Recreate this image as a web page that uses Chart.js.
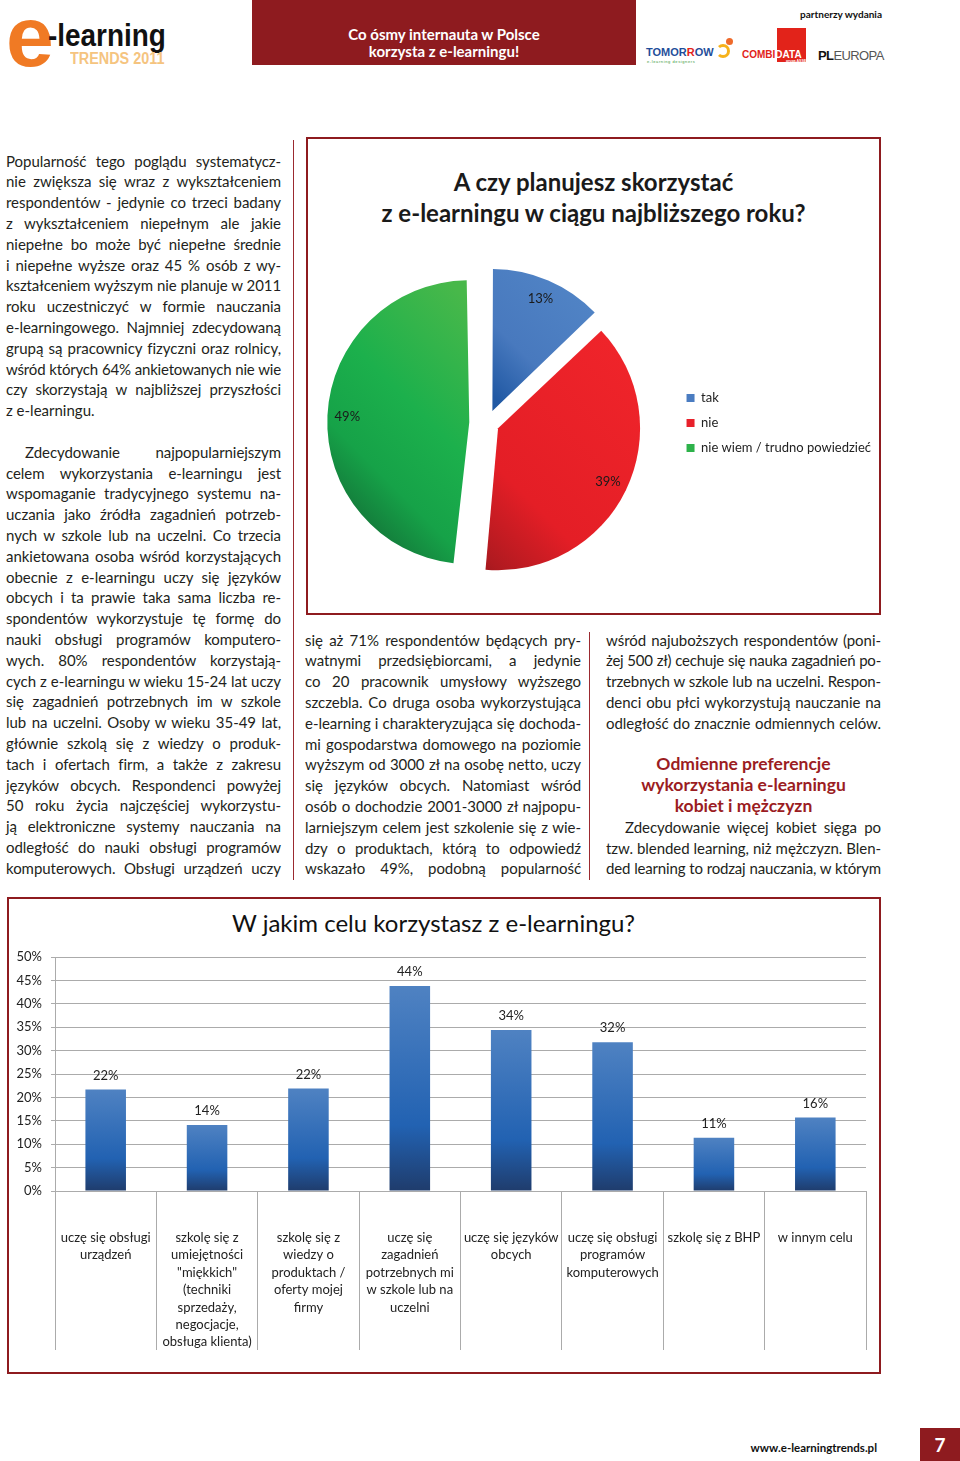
<!DOCTYPE html>
<html lang="pl">
<head>
<meta charset="utf-8">
<title>e-learning trends 2011</title>
<script src="https://cdn.jsdelivr.net/npm/chart.js@4.4.1/dist/chart.umd.min.js"></script>
<style>
  html, body { margin: 0; padding: 0; background: #fff; }
  body { width: 960px; height: 1461px; position: relative; overflow: hidden; font-family: Lato, sans-serif; color: #231f20; }
  .abs { position: absolute; }
  .col { position: absolute; font-size: 15px; line-height: 20.8px; }
  .ln { height: 20.8px; text-align: justify; text-align-last: justify; white-space: normal; overflow: visible; }
  .ln.last { text-align-last: left; }
  .ln.ind { text-indent: 19px; }
  .hd { height: 20.8px; text-align: center; font-weight: bold; font-size: 17.5px; color: #9b1c22; white-space: nowrap; }
  .box { position: absolute; border: 2px solid #8e1b1f; box-sizing: border-box; }
  .vline { position: absolute; width: 1px; background: #9b2a30; }
</style>
</head>
<body>

<!-- header -->
<div class="abs" style="left:6px;top:-7px;font:bold 86px/86px 'Liberation Sans',Arial,sans-serif;color:#f07a24;">e</div>
<div class="abs" style="left:48px;top:19.7px;font:bold 31px/31px 'Liberation Sans',Arial,sans-serif;color:#111;transform:scaleX(0.9);transform-origin:left top;white-space:nowrap;">-learning</div>
<div class="abs" style="left:70px;top:50.5px;font:bold 16px/16px 'Liberation Sans',Arial,sans-serif;color:#f5c47f;transform:scaleX(0.9);transform-origin:left top;white-space:nowrap;">TRENDS 2011</div>

<div class="abs" style="left:252px;top:0;width:384px;height:65px;background:#8e1b1f;"></div>
<div class="abs" style="left:252px;top:25.5px;width:384px;text-align:center;font:bold 15px/17px Lato,sans-serif;color:#fff;">Co ósmy internauta w Polsce<br>korzysta z e-learningu!</div>

<div class="abs" style="left:780px;top:7px;width:102px;text-align:right;font:bold 10px/14px Lato,sans-serif;color:#111;">partnerzy wydania</div>
<div class="abs" style="left:646px;top:46px;font:900 11px/13px 'Liberation Sans',Arial,sans-serif;color:#1f4e9a;white-space:nowrap;">TOMOR<span style="color:#e2231a">R</span>OW</div>
<div class="abs" style="left:647px;top:59px;font:4px/5px 'Liberation Sans',Arial,sans-serif;color:#3a9a3a;white-space:nowrap;letter-spacing:0.6px;">e-learning designers</div>
<div class="abs" style="left:716px;top:44px;width:14px;height:14px;border-radius:50%;border:3px solid #f6b21b;border-left-color:transparent;box-sizing:border-box;"></div>
<div class="abs" style="left:726px;top:38px;width:7px;height:7px;border-radius:50%;background:#ef6a2a;"></div>
<div class="abs" style="left:777px;top:28px;width:29px;height:34px;background:#e2231a;"></div>
<div class="abs" style="left:742px;top:49px;font:900 10px/12px 'Liberation Sans',Arial,sans-serif;color:#e2231a;white-space:nowrap;">COMBI<span style="color:#fff">DATA</span></div>
<div class="abs" style="left:786px;top:59px;font:bold 3.5px/4px 'Liberation Sans',Arial,sans-serif;color:#fff;white-space:nowrap;">grupa ASSECO</div>
<div class="abs" style="left:818px;top:48px;font:13px/15px 'Liberation Sans',Arial,sans-serif;color:#555;white-space:nowrap;letter-spacing:-0.6px;"><b style="color:#111">PL</b>EUROPA</div>

<!-- left column -->
<div class="vline" style="left:293px;top:140px;height:740px;"></div>
<div class="col" id="colLeft" style="left:6px;top:150.6px;width:275px;">
  <div class="ln">Popularność tego poglądu systematycz-</div>
  <div class="ln">nie zwiększa się wraz z wykształceniem</div>
  <div class="ln">respondentów - jedynie co trzeci badany</div>
  <div class="ln">z wykształceniem niepełnym ale jakie</div>
  <div class="ln">niepełne bo może być niepełne średnie</div>
  <div class="ln">i niepełne wyższe oraz 45 % osób z wy-</div>
  <div class="ln">kształceniem wyższym nie planuje w 2011</div>
  <div class="ln">roku uczestniczyć w formie nauczania</div>
  <div class="ln">e-learningowego. Najmniej zdecydowaną</div>
  <div class="ln">grupą są pracownicy fizyczni oraz rolnicy,</div>
  <div class="ln">wśród których 64% ankietowanych nie wie</div>
  <div class="ln">czy skorzystają w najbliższej przyszłości</div>
  <div class="ln last">z e-learningu.</div>
  <div class="ln last"></div>
  <div class="ln ind">Zdecydowanie najpopularniejszym</div>
  <div class="ln">celem wykorzystania e-learningu jest</div>
  <div class="ln">wspomaganie tradycyjnego systemu na-</div>
  <div class="ln">uczania jako źródła zagadnień potrzeb-</div>
  <div class="ln">nych w szkole lub na uczelni. Co trzecia</div>
  <div class="ln">ankietowana osoba wśród korzystających</div>
  <div class="ln">obecnie z e-learningu uczy się języków</div>
  <div class="ln">obcych i ta prawie taka sama liczba re-</div>
  <div class="ln">spondentów wykorzystuje tę formę do</div>
  <div class="ln">nauki obsługi programów komputero-</div>
  <div class="ln">wych. 80% respondentów korzystają-</div>
  <div class="ln">cych z e-learningu w wieku 15-24 lat uczy</div>
  <div class="ln">się zagadnień potrzebnych im w szkole</div>
  <div class="ln">lub na uczelni. Osoby w wieku 35-49 lat,</div>
  <div class="ln">głównie szkolą się z wiedzy o produk-</div>
  <div class="ln">tach i ofertach firm, a także z zakresu</div>
  <div class="ln">języków obcych. Respondenci powyżej</div>
  <div class="ln">50 roku życia najczęściej wykorzystu-</div>
  <div class="ln">ją elektroniczne systemy nauczania na</div>
  <div class="ln">odległość do nauki obsługi programów</div>
  <div class="ln">komputerowych. Obsługi urządzeń uczy</div>
</div>

<!-- pie box -->
<div class="box" style="left:306px;top:137px;width:575px;height:478px;"></div>
<div class="abs" style="left:306px;top:165.5px;width:575px;text-align:center;font:bold 24px/31px Lato,sans-serif;color:#1a1a1a;">A czy planujesz skorzystać<br>z e-learningu w ciągu najbliższego roku?</div>
<canvas id="pieChart" class="abs" style="left:300px;top:240px;" width="581" height="366"></canvas>

<!-- middle column -->
<div class="vline" style="left:589px;top:632px;height:248px;"></div>
<div class="col" id="colMid" style="left:305px;top:629.6px;width:276px;">
  <div class="ln">się aż 71% respondentów będących pry-</div>
  <div class="ln">watnymi przedsiębiorcami, a jedynie</div>
  <div class="ln">co 20 pracownik umysłowy wyższego</div>
  <div class="ln">szczebla. Co druga osoba wykorzystująca</div>
  <div class="ln">e-learning i charakteryzująca się dochoda-</div>
  <div class="ln">mi gospodarstwa domowego na poziomie</div>
  <div class="ln">wyższym od 3000 zł na osobę netto, uczy</div>
  <div class="ln">się języków obcych. Natomiast wśród</div>
  <div class="ln">osób o dochodzie 2001-3000 zł najpopu-</div>
  <div class="ln">larniejszym celem jest szkolenie się z wie-</div>
  <div class="ln">dzy o produktach, którą to odpowiedź</div>
  <div class="ln">wskazało 49%, podobną popularność</div>
</div>

<!-- right column -->
<div class="col" id="colRight" style="left:606px;top:629.6px;width:275px;">
  <div class="ln">wśród najuboższych respondentów (poni-</div>
  <div class="ln">żej 500 zł) cechuje się nauka zagadnień po-</div>
  <div class="ln">trzebnych w szkole lub na uczelni. Respon-</div>
  <div class="ln">denci obu płci wykorzystują nauczanie na</div>
  <div class="ln">odległość do znacznie odmiennych celów.</div>
  <div class="ln last"></div>
  <div class="hd">Odmienne preferencje</div>
  <div class="hd">wykorzystania e-learningu</div>
  <div class="hd">kobiet i mężczyzn</div>
  <div class="ln ind">Zdecydowanie więcej kobiet sięga po</div>
  <div class="ln">tzw. blended learning, niż mężczyzn. Blen-</div>
  <div class="ln">ded learning to rodzaj nauczania, w którym</div>
</div>

<!-- bar box -->
<div class="box" style="left:7px;top:897px;width:874px;height:477px;"></div>
<div class="abs" style="left:0;top:907px;width:867px;text-align:center;font:24px/31px Lato,sans-serif;color:#111;">W jakim celu korzystasz z e-learningu?</div>
<canvas id="barChart" class="abs" style="left:9px;top:940px;" width="868" height="416"></canvas>

<!-- footer -->
<div class="abs" style="left:700px;top:1440px;width:177px;text-align:right;font:bold 11.5px/16px Lato,sans-serif;color:#111;">www.e-learningtrends.pl</div>
<div class="abs" style="left:920px;top:1428px;width:40px;height:33px;background:#8e1b1f;color:#fff;font:bold 19px/33px Lato,sans-serif;text-align:center;">7</div>

<script>
// --- dane: wykres kołowy ---
const answerLabels = ['tak', 'nie', 'nie wiem / trudno powiedzieć'];
const answerValues = [13, 39, 49];

// --- dane: wykres słupkowy ---
const purposeLabels = [
  ['uczę się obsługi', 'urządzeń'],
  ['szkolę się z', 'umiejętności', '"miękkich"', '(techniki', 'sprzedaży,', 'negocjacje,', 'obsługa klienta)'],
  ['szkolę się z', 'wiedzy o', 'produktach /', 'oferty mojej', 'firmy'],
  ['uczę się', 'zagadnień', 'potrzebnych mi', 'w szkole lub na', 'uczelni'],
  ['uczę się języków', 'obcych'],
  ['uczę się obsługi', 'programów', 'komputerowych'],
  ['szkolę się z BHP'],
  ['w innym celu']
];
const purposeValues = [21.7, 14.1, 21.9, 43.8, 34.4, 31.8, 11.4, 15.7];
const yTicksMax = 50;
const yTicksStep = 5;

// kolory
const sliceSolid = ['#4a7cc1', '#e8202a', '#2db24a'];
const sliceStops = [
  [[0, '#5083c5'], [0.28, '#4879be'], [0.46, '#2159a4'], [1, '#1d4f96']],
  [[0, '#ef242a'], [0.6, '#e41e26'], [0.85, '#b01a20'], [1, '#7e1216']],
  [[0.2, '#48b84a'], [0.6, '#1cb04c'], [0.85, '#16a248'], [1, '#147f3c']]
];
const GRID = '#ababab';
const TEXT = '#222';
const PIE_R = 142;

Chart.defaults.font.family = 'Lato, sans-serif';
Chart.defaults.color = TEXT;

// justowanie wierszy kolumn (zwężenie zbyt długich)
function fitLines() {
  document.querySelectorAll('.col .ln').forEach(ln => {
    const txt = ln.textContent;
    if (!txt) return;
    const probe = document.createElement('span');
    probe.style.whiteSpace = 'nowrap';
    probe.textContent = txt;
    ln.textContent = '';
    ln.appendChild(probe);
    const nat = probe.getBoundingClientRect().width;
    const avail = ln.clientWidth - (ln.classList.contains('ind') ? 19 : 0);
    ln.textContent = txt;
    if (nat > avail - 1) {
      ln.style.letterSpacing = ((avail - nat - 1.5) / txt.length) + 'px';
    }
  });
}
fitLines();

function pieFill(context) {
  const chart = context.chart;
  const area = chart.chartArea;
  const i = context.dataIndex;
  if (!area) return sliceSolid[i];
  const cx = (area.left + area.right) / 2;
  const cy = (area.top + area.bottom) / 2;
  const r = PIE_R * Math.SQRT1_2;
  const g = chart.ctx.createLinearGradient(cx + r, cy - r, cx - r, cy + r);
  sliceStops[i].forEach(([t, c]) => g.addColorStop(t, c));
  return g;
}

// Chart.js powiększa promień wysuniętych wycinków - wyrównujemy
const arcRadiusFix = {
  id: 'arcRadiusFix',
  beforeDatasetsDraw(chart) {
    chart.getDatasetMeta(0).data.forEach(arc => {
      const fix = 1 - Math.sin(Math.min(Math.PI, arc.circumference));
      arc.outerRadius = PIE_R - ((arc.options.offset || 0) / 4) * fix;
    });
  }
};

const pieLabels = {
  id: 'pieLabels',
  afterDatasetsDraw(chart) {
    const ctx = chart.ctx;
    ctx.save();
    ctx.font = '13px Lato, sans-serif';
    ctx.fillStyle = '#1a1a1a';
    ctx.textAlign = 'center';
    ctx.textBaseline = 'middle';
    chart.getDatasetMeta(0).data.forEach((arc, i) => {
      const mid = (arc.startAngle + arc.endAngle) / 2;
      const d = (arc.options.offset || 0) / 4 + PIE_R * 0.86;
      ctx.fillText(answerValues[i] + '%', arc.x + Math.cos(mid) * d, arc.y + Math.sin(mid) * d);
    });
    ctx.restore();
  }
};

new Chart(document.getElementById('pieChart'), {
  type: 'pie',
  data: {
    labels: answerLabels,
    datasets: [{
      data: answerValues,
      backgroundColor: pieFill,
      borderWidth: 0,
      offset: [52, 48, 72],
      radius: PIE_R
    }]
  },
  options: {
    responsive: false,
    animation: false,
    events: [],
    plugins: {
      tooltip: { enabled: false },
      legend: {
        position: 'right',
        labels: {
          boxWidth: 8,
          boxHeight: 8,
          padding: 12,
          color: TEXT,
          font: { size: 13 },
          generateLabels: chart => chart.data.labels.map((text, i) => ({
            text, index: i, hidden: false,
            fillStyle: sliceSolid[i], strokeStyle: sliceSolid[i], lineWidth: 0, fontColor: TEXT
          }))
        }
      }
    }
  },
  plugins: [arcRadiusFix, pieLabels]
});

function barFill(context) {
  const chart = context.chart;
  if (!chart.chartArea || context.type !== 'data') return '#2f66b0';
  const y = chart.scales.y;
  const top = y.getPixelForValue(context.raw);
  const bottom = y.getPixelForValue(0);
  const g = chart.ctx.createLinearGradient(0, top, 0, bottom);
  g.addColorStop(0, '#4f82c2');
  g.addColorStop(0.68, '#2262b2');
  g.addColorStop(1, '#1f3c6c');
  return g;
}

const barLabels = {
  id: 'barLabels',
  afterDatasetsDraw(chart) {
    const ctx = chart.ctx;
    ctx.save();
    ctx.font = '13px Lato, sans-serif';
    ctx.fillStyle = TEXT;
    ctx.textAlign = 'center';
    ctx.textBaseline = 'middle';
    chart.getDatasetMeta(0).data.forEach((bar, i) => {
      ctx.fillText(Math.round(purposeValues[i]) + '%', bar.x, bar.y - 14);
    });
    ctx.restore();
  }
};

new Chart(document.getElementById('barChart'), {
  type: 'bar',
  data: {
    labels: purposeLabels,
    datasets: [{
      data: purposeValues,
      backgroundColor: barFill,
      categoryPercentage: 1,
      barPercentage: 0.4
    }]
  },
  options: {
    responsive: false,
    animation: false,
    events: [],
    layout: { padding: { top: 17, right: 11, left: 0, bottom: 0 } },
    plugins: { legend: { display: false }, tooltip: { enabled: false } },
    scales: {
      x: {
        offset: true,
        grid: { offset: true, drawOnChartArea: false, drawTicks: true, tickLength: 159, color: GRID, lineWidth: 1 },
        border: { color: GRID },
        ticks: { padding: -121, maxRotation: 0, autoSkip: false, color: TEXT, font: { size: 13, lineHeight: 1.34 } },
        afterFit: s => { s.height = 165; }
      },
      y: {
        min: 0,
        max: yTicksMax,
        grid: { color: GRID, tickLength: 4, lineWidth: 1 },
        border: { color: GRID },
        ticks: { stepSize: yTicksStep, padding: 9, color: TEXT, font: { size: 13 }, callback: v => v + '%' },
        afterFit: s => { s.width = 46; }
      }
    }
  },
  plugins: [barLabels]
});
</script>
</body>
</html>
